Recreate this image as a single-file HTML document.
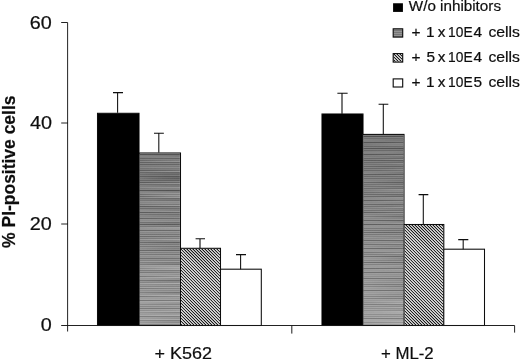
<!DOCTYPE html>
<html>
<head>
<meta charset="utf-8">
<title>PI-positive cells chart</title>
<style>
  html, body { margin: 0; padding: 0; background: #ffffff; }
  body { width: 520px; height: 361px; overflow: hidden; }
  svg { display: block; }
  text { font-family: "Liberation Sans", sans-serif; fill: #0d0d0d; stroke: #0d0d0d; stroke-width: 0.2px; }
</style>
</head>
<body>
<svg width="520" height="361" viewBox="0 0 520 361">
  <defs>
    <!-- diagonal "\" hatch -->
    <pattern id="hatch" patternUnits="userSpaceOnUse" width="1.95" height="1.95" patternTransform="rotate(-45)">
      <rect x="0" y="0" width="1.95" height="1.95" fill="#ffffff"/>
      <rect x="0" y="0" width="1.0" height="1.95" fill="#0a0a0a"/>
    </pattern>
    <!-- fine horizontal lines, reads as mid gray -->
    <pattern id="hlines" patternUnits="userSpaceOnUse" width="4" height="2">
      <rect x="0" y="0" width="4" height="2" fill="#949494"/>
      <rect x="0" y="0" width="4" height="1" fill="#777777"/>
    </pattern>
    <filter id="soft2" x="-2%" y="-2%" width="104%" height="104%">
      <feGaussianBlur stdDeviation="0.15"/>
    </filter>
    <filter id="soft" x="-2%" y="-2%" width="104%" height="104%">
      <feGaussianBlur stdDeviation="0.5"/>
    </filter>
    <clipPath id="hb1"><rect x="181" y="248.8" width="39" height="76.2"/></clipPath>
    <clipPath id="hb2"><rect x="404.5" y="225" width="38.8" height="100"/></clipPath>
    <clipPath id="hb3"><rect x="393.7" y="54.1" width="8.5" height="7.5"/></clipPath>
    <linearGradient id="gshade" x1="0" y1="0" x2="0" y2="1">
      <stop offset="0"   stop-color="#000000" stop-opacity="0.16"/>
      <stop offset="0.45" stop-color="#000000" stop-opacity="0.02"/>
      <stop offset="0.55" stop-color="#ffffff" stop-opacity="0.02"/>
      <stop offset="1"   stop-color="#ffffff" stop-opacity="0.2"/>
    </linearGradient>
    <filter id="streak" x="0" y="0" width="1" height="1">
      <feTurbulence type="fractalNoise" baseFrequency="0.008 0.5" numOctaves="1" seed="11" result="n"/>
      <feColorMatrix in="n" type="matrix" values="0.9 0 0 0 0.05  0.9 0 0 0 0.05  0.9 0 0 0 0.05  0 0 0 0 1" result="g"/>
      <feBlend in="g" in2="SourceGraphic" mode="soft-light" result="b"/>
      <feComposite in="b" in2="SourceGraphic" operator="in"/>
    </filter>
  </defs>

  <rect x="0" y="0" width="520" height="361" fill="#ffffff"/>

  <g filter="url(#soft)">
    <!-- ===== bars: group 1 (K562) ===== -->
    <g stroke="#0a0a0a" stroke-width="1.05">
      <rect x="97.5"  y="113.3" width="41.5" height="212.2" fill="#000000"/>
      <rect x="139.2" y="153"   width="41.3" height="172.5" fill="#858585"/>
      <rect x="180.5" y="248.3" width="40"   height="77.2"  fill="#8a8a8a"/>
      <rect x="220.5" y="269.2" width="40.8" height="56.3"  fill="#ffffff"/>
    </g>
    <!-- error bars group 1 -->
    <g stroke="#0a0a0a" stroke-width="1.05" fill="none">
      <path d="M117.6 112.8 V92.6 M113 92.6 H123"/>
      <path d="M158.8 152.5 V133.2 M154 133.2 H163.8"/>
      <path d="M200 248 V238.8 M195.6 238.8 H205"/>
      <path d="M240.6 269.2 V254.6 M236 254.6 H246"/>
    </g>

    <!-- ===== bars: group 2 (ML-2) ===== -->
    <g stroke="#0a0a0a" stroke-width="1.05">
      <rect x="322" y="114" width="41" height="211.5" fill="#000000"/>
      <rect x="363"   y="134.4" width="41"   height="191.1" fill="#858585"/>
      <rect x="404"   y="224.5" width="39.8" height="101"   fill="#8a8a8a"/>
      <rect x="443.8" y="249.2" width="40.7" height="76.3"  fill="#ffffff"/>
    </g>
    <!-- error bars group 2 -->
    <g stroke="#0a0a0a" stroke-width="1.05" fill="none">
      <path d="M342 114 V93.3 M337.4 93.3 H347.6"/>
      <path d="M383.3 134.4 V104.3 M378.6 104.3 H388.3"/>
      <path d="M423.3 224.5 V194.6 M418.6 194.6 H428.3"/>
      <path d="M463.2 249.2 V239.6 M458.2 239.6 H468.3"/>
    </g>

    <!-- ===== axes ===== -->
    <g stroke="#141414" stroke-width="0.95" fill="none">
      <!-- y axis -->
      <path d="M67.6 22.5 V331.5"/>
      <!-- y ticks -->
      <path d="M61.2 22.5 H67.6 M61.2 123 H67.6 M61.2 224 H67.6"/>
      <!-- x axis -->
      <path d="M61.2 325.5 H514.6"/>
      <!-- x ticks -->
      <path d="M291.8 325.5 V333.6 M514.6 325.5 V332.6"/>
    </g>

    <!-- ===== y tick labels ===== -->
    <g font-size="17.6" style="stroke-width:0.12px">
      <text x="29.8" y="29" textLength="22" lengthAdjust="spacingAndGlyphs">60</text>
      <text x="30" y="129.2" textLength="22" lengthAdjust="spacingAndGlyphs">40</text>
      <text x="29.8" y="229.8" textLength="22" lengthAdjust="spacingAndGlyphs">20</text>
      <text x="40.8" y="331.4" textLength="11" lengthAdjust="spacingAndGlyphs">0</text>
    </g>

    <!-- ===== y axis title ===== -->
    <text transform="translate(14.75 247.9) rotate(-90)" font-size="17.7" font-weight="bold" textLength="152.4" lengthAdjust="spacingAndGlyphs">% PI-positive cells</text>

    <!-- ===== x category labels ===== -->
    <g font-size="16.9">
      <text x="154.6" y="359.3" textLength="57.4" lengthAdjust="spacingAndGlyphs">+ K562</text>
      <text x="380.9" y="359.3" textLength="52.8" lengthAdjust="spacingAndGlyphs">+ ML-2</text>
    </g>

    <!-- ===== legend ===== -->
    <g stroke="#0a0a0a" stroke-width="1.1">
      <rect x="393.6" y="3.8"  width="8.8" height="7.6" fill="#000000"/>
      <rect x="393.2"   y="28.8" width="9.5" height="8.3" fill="url(#hlines)"/>
      <rect x="393.2"   y="53.6" width="9.5" height="8.5" fill="#8a8a8a"/>
      <rect x="393.2"   y="78.9" width="9.5" height="8.1" fill="#ffffff"/>
    </g>
    <g font-size="15.4">
      <text x="408.8" y="11.4" textLength="92.2" lengthAdjust="spacingAndGlyphs">W/o inhibitors</text>

      <text x="411.6" y="36.7">+</text>
      <text x="426.1" y="36.7">1</text>
      <text x="437.8" y="36.7">x</text>
      <text x="448.1" y="36.7" textLength="24.5" lengthAdjust="spacingAndGlyphs">10E</text>
      <text x="473.6" y="36.7">4</text>
      <text x="488.4" y="36.7" textLength="31.6" lengthAdjust="spacingAndGlyphs">cells</text>

      <text x="411.6" y="61.9">+</text>
      <text x="426.5" y="61.9">5</text>
      <text x="437.8" y="61.9">x</text>
      <text x="448.1" y="61.9" textLength="24.5" lengthAdjust="spacingAndGlyphs">10E</text>
      <text x="473.6" y="61.9">4</text>
      <text x="488.4" y="61.9" textLength="31.6" lengthAdjust="spacingAndGlyphs">cells</text>

      <text x="411.6" y="86.7">+</text>
      <text x="426.1" y="86.7">1</text>
      <text x="437.8" y="86.7">x</text>
      <text x="448.1" y="86.7" textLength="24.5" lengthAdjust="spacingAndGlyphs">10E</text>
      <text x="473.6" y="86.7">5</text>
      <text x="488.4" y="86.7" textLength="31.6" lengthAdjust="spacingAndGlyphs">cells</text>
    </g>
  </g>

  <!-- crisp gray fills with fine horizontal lines + streak noise -->
  <g filter="url(#streak)">
    <rect x="139.8" y="153.6" width="40.1" height="171.4" fill="url(#hlines)"/>
    <rect x="139.8" y="153.6" width="40.1" height="171.4" fill="url(#gshade)"/>
  </g>
  <g filter="url(#streak)">
    <rect x="363.6" y="135" width="39.8" height="190" fill="url(#hlines)"/>
    <rect x="363.6" y="135" width="39.8" height="190" fill="url(#gshade)"/>
  </g>
  <!-- crisp hatch overlays (kept out of the blur so the stripes stay contrasty) -->
  <g filter="url(#soft2)">
    <g clip-path="url(#hb1)"><rect x="181" y="248.8" width="39" height="76.2" fill="#ffffff"/><path d="M98.675 247.800l78.20 78.20M101.675 247.800l78.20 78.20M104.675 247.800l78.20 78.20M107.675 247.800l78.20 78.20M110.675 247.800l78.20 78.20M113.675 247.800l78.20 78.20M116.675 247.800l78.20 78.20M119.675 247.800l78.20 78.20M122.675 247.800l78.20 78.20M125.675 247.800l78.20 78.20M128.675 247.800l78.20 78.20M131.675 247.800l78.20 78.20M134.675 247.800l78.20 78.20M137.675 247.800l78.20 78.20M140.675 247.800l78.20 78.20M143.675 247.800l78.20 78.20M146.675 247.800l78.20 78.20M149.675 247.800l78.20 78.20M152.675 247.800l78.20 78.20M155.675 247.800l78.20 78.20M158.675 247.800l78.20 78.20M161.675 247.800l78.20 78.20M164.675 247.800l78.20 78.20M167.675 247.800l78.20 78.20M170.675 247.800l78.20 78.20M173.675 247.800l78.20 78.20M176.675 247.800l78.20 78.20M179.675 247.800l78.20 78.20M182.675 247.800l78.20 78.20M185.675 247.800l78.20 78.20M188.675 247.800l78.20 78.20M191.675 247.800l78.20 78.20M194.675 247.800l78.20 78.20M197.675 247.800l78.20 78.20M200.675 247.800l78.20 78.20M203.675 247.800l78.20 78.20M206.675 247.800l78.20 78.20M209.675 247.800l78.20 78.20M212.675 247.800l78.20 78.20M215.675 247.800l78.20 78.20M218.675 247.800l78.20 78.20M221.675 247.800l78.20 78.20" stroke="#050505" stroke-width="1.05" fill="none"/></g>
    <g clip-path="url(#hb2)"><rect x="404.5" y="225" width="38.8" height="100" fill="#ffffff"/><path d="M299.875 224.000l102.00 102.00M302.875 224.000l102.00 102.00M305.875 224.000l102.00 102.00M308.875 224.000l102.00 102.00M311.875 224.000l102.00 102.00M314.875 224.000l102.00 102.00M317.875 224.000l102.00 102.00M320.875 224.000l102.00 102.00M323.875 224.000l102.00 102.00M326.875 224.000l102.00 102.00M329.875 224.000l102.00 102.00M332.875 224.000l102.00 102.00M335.875 224.000l102.00 102.00M338.875 224.000l102.00 102.00M341.875 224.000l102.00 102.00M344.875 224.000l102.00 102.00M347.875 224.000l102.00 102.00M350.875 224.000l102.00 102.00M353.875 224.000l102.00 102.00M356.875 224.000l102.00 102.00M359.875 224.000l102.00 102.00M362.875 224.000l102.00 102.00M365.875 224.000l102.00 102.00M368.875 224.000l102.00 102.00M371.875 224.000l102.00 102.00M374.875 224.000l102.00 102.00M377.875 224.000l102.00 102.00M380.875 224.000l102.00 102.00M383.875 224.000l102.00 102.00M386.875 224.000l102.00 102.00M389.875 224.000l102.00 102.00M392.875 224.000l102.00 102.00M395.875 224.000l102.00 102.00M398.875 224.000l102.00 102.00M401.875 224.000l102.00 102.00M404.875 224.000l102.00 102.00M407.875 224.000l102.00 102.00M410.875 224.000l102.00 102.00M413.875 224.000l102.00 102.00M416.875 224.000l102.00 102.00M419.875 224.000l102.00 102.00M422.875 224.000l102.00 102.00M425.875 224.000l102.00 102.00M428.875 224.000l102.00 102.00M431.875 224.000l102.00 102.00M434.875 224.000l102.00 102.00M437.875 224.000l102.00 102.00M440.875 224.000l102.00 102.00M443.875 224.000l102.00 102.00" stroke="#050505" stroke-width="1.05" fill="none"/></g>
    <g clip-path="url(#hb3)"><rect x="393.7" y="54.1" width="8.5" height="7.5" fill="#ffffff"/><path d="M380.975 53.100l9.50 9.50M383.975 53.100l9.50 9.50M386.975 53.100l9.50 9.50M389.975 53.100l9.50 9.50M392.975 53.100l9.50 9.50M395.975 53.100l9.50 9.50M398.975 53.100l9.50 9.50M401.975 53.100l9.50 9.50" stroke="#050505" stroke-width="1.05" fill="none"/></g>
  </g>
</svg>
</body>
</html>
